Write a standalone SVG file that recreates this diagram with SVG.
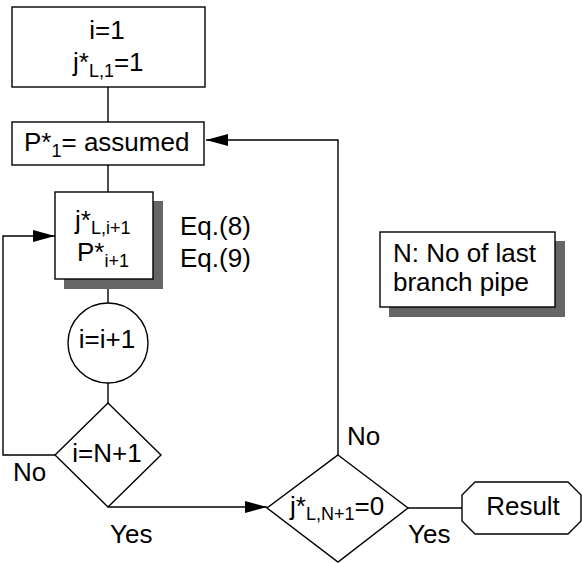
<svg xmlns="http://www.w3.org/2000/svg" width="582" height="563" viewBox="0 0 582 563">
<style>
  .box{fill:#fff;stroke:#000;stroke-width:1.4}
  .shadow{fill:#666;stroke:none}
  .line{fill:none;stroke:#000;stroke-width:1.4}
  text{font-family:"Liberation Sans",Arial,sans-serif;font-size:26px;fill:#000}
  .sub{font-size:18px}
</style>
<defs>
  <marker id="arr" markerUnits="userSpaceOnUse" markerWidth="22" markerHeight="12" refX="22" refY="6" orient="auto">
    <path d="M0,0 L22,6 L0,12 Z" fill="#000"/>
  </marker>
</defs>
<g id="connectors">
  <path class="line" d="M108,87 V122"/>
  <path class="line" d="M108,165 V192"/>
  <path class="line" d="M108,279 V303"/>
  <path class="line" d="M108,383 V403"/>
  <path class="line" d="M55,455 H3 V236 H55" marker-end="url(#arr)"/>
  <path class="line" d="M108,507 H267" marker-end="url(#arr)"/>
  <path class="line" d="M338,455 V140 H206" marker-end="url(#arr)"/>
  <path class="line" d="M408,508 H462"/>
</g>
<g id="init">
  <rect class="box" x="12" y="7" width="193" height="80"/>
  <text x="107" y="39" text-anchor="middle">i=1</text>
  <text x="73" y="71">j*<tspan class="sub" dy="6">L,1</tspan><tspan dy="-6">=1</tspan></text>
</g>
<g id="assume">
  <rect class="box" x="12" y="122" width="192" height="43"/>
  <text x="24" y="151">P*<tspan class="sub" dy="6">1</tspan><tspan dy="-6">= assumed</tspan></text>
</g>
<g id="calc">
  <rect class="shadow" x="64" y="201" width="99" height="88"/>
  <rect class="box" x="55" y="192" width="98" height="87"/>
  <text x="75" y="229">j*<tspan class="sub" dy="5">L,i+1</tspan></text>
  <text x="77" y="261">P*<tspan class="sub" dy="6">i+1</tspan></text>
</g>
<g id="eqs">
  <text x="180" y="235">Eq.(8)</text>
  <text x="180" y="267">Eq.(9)</text>
</g>
<g id="note">
  <rect class="shadow" x="389" y="241" width="176" height="76"/>
  <rect class="box" x="380" y="232" width="175" height="75"/>
  <text x="393" y="262">N: No of last</text>
  <text x="393" y="291">branch pipe</text>
</g>
<g id="incr">
  <circle class="box" cx="108" cy="343" r="40"/>
  <text x="107" y="348" text-anchor="middle">i=i+1</text>
</g>
<g id="check-i">
  <path class="box" d="M108,403 L161,455 L108,507 L55,455 Z"/>
  <text x="107" y="462" text-anchor="middle">i=N+1</text>
  <text x="13" y="481">No</text>
  <text x="110" y="543">Yes</text>
</g>
<g id="check-j">
  <path class="box" d="M338,455 L408,508 L338,562 L267,508 Z"/>
  <text x="290" y="515">j*<tspan class="sub" dy="5">L,N+1</tspan><tspan dy="-5">=0</tspan></text>
  <text x="347" y="445">No</text>
  <text x="408" y="543">Yes</text>
</g>
<g id="result">
  <path class="box" d="M475,482 H568 L581,495 V521 L568,534 H475 L462,521 V495 Z"/>
  <text x="523" y="515" text-anchor="middle">Result</text>
</g>
</svg>
